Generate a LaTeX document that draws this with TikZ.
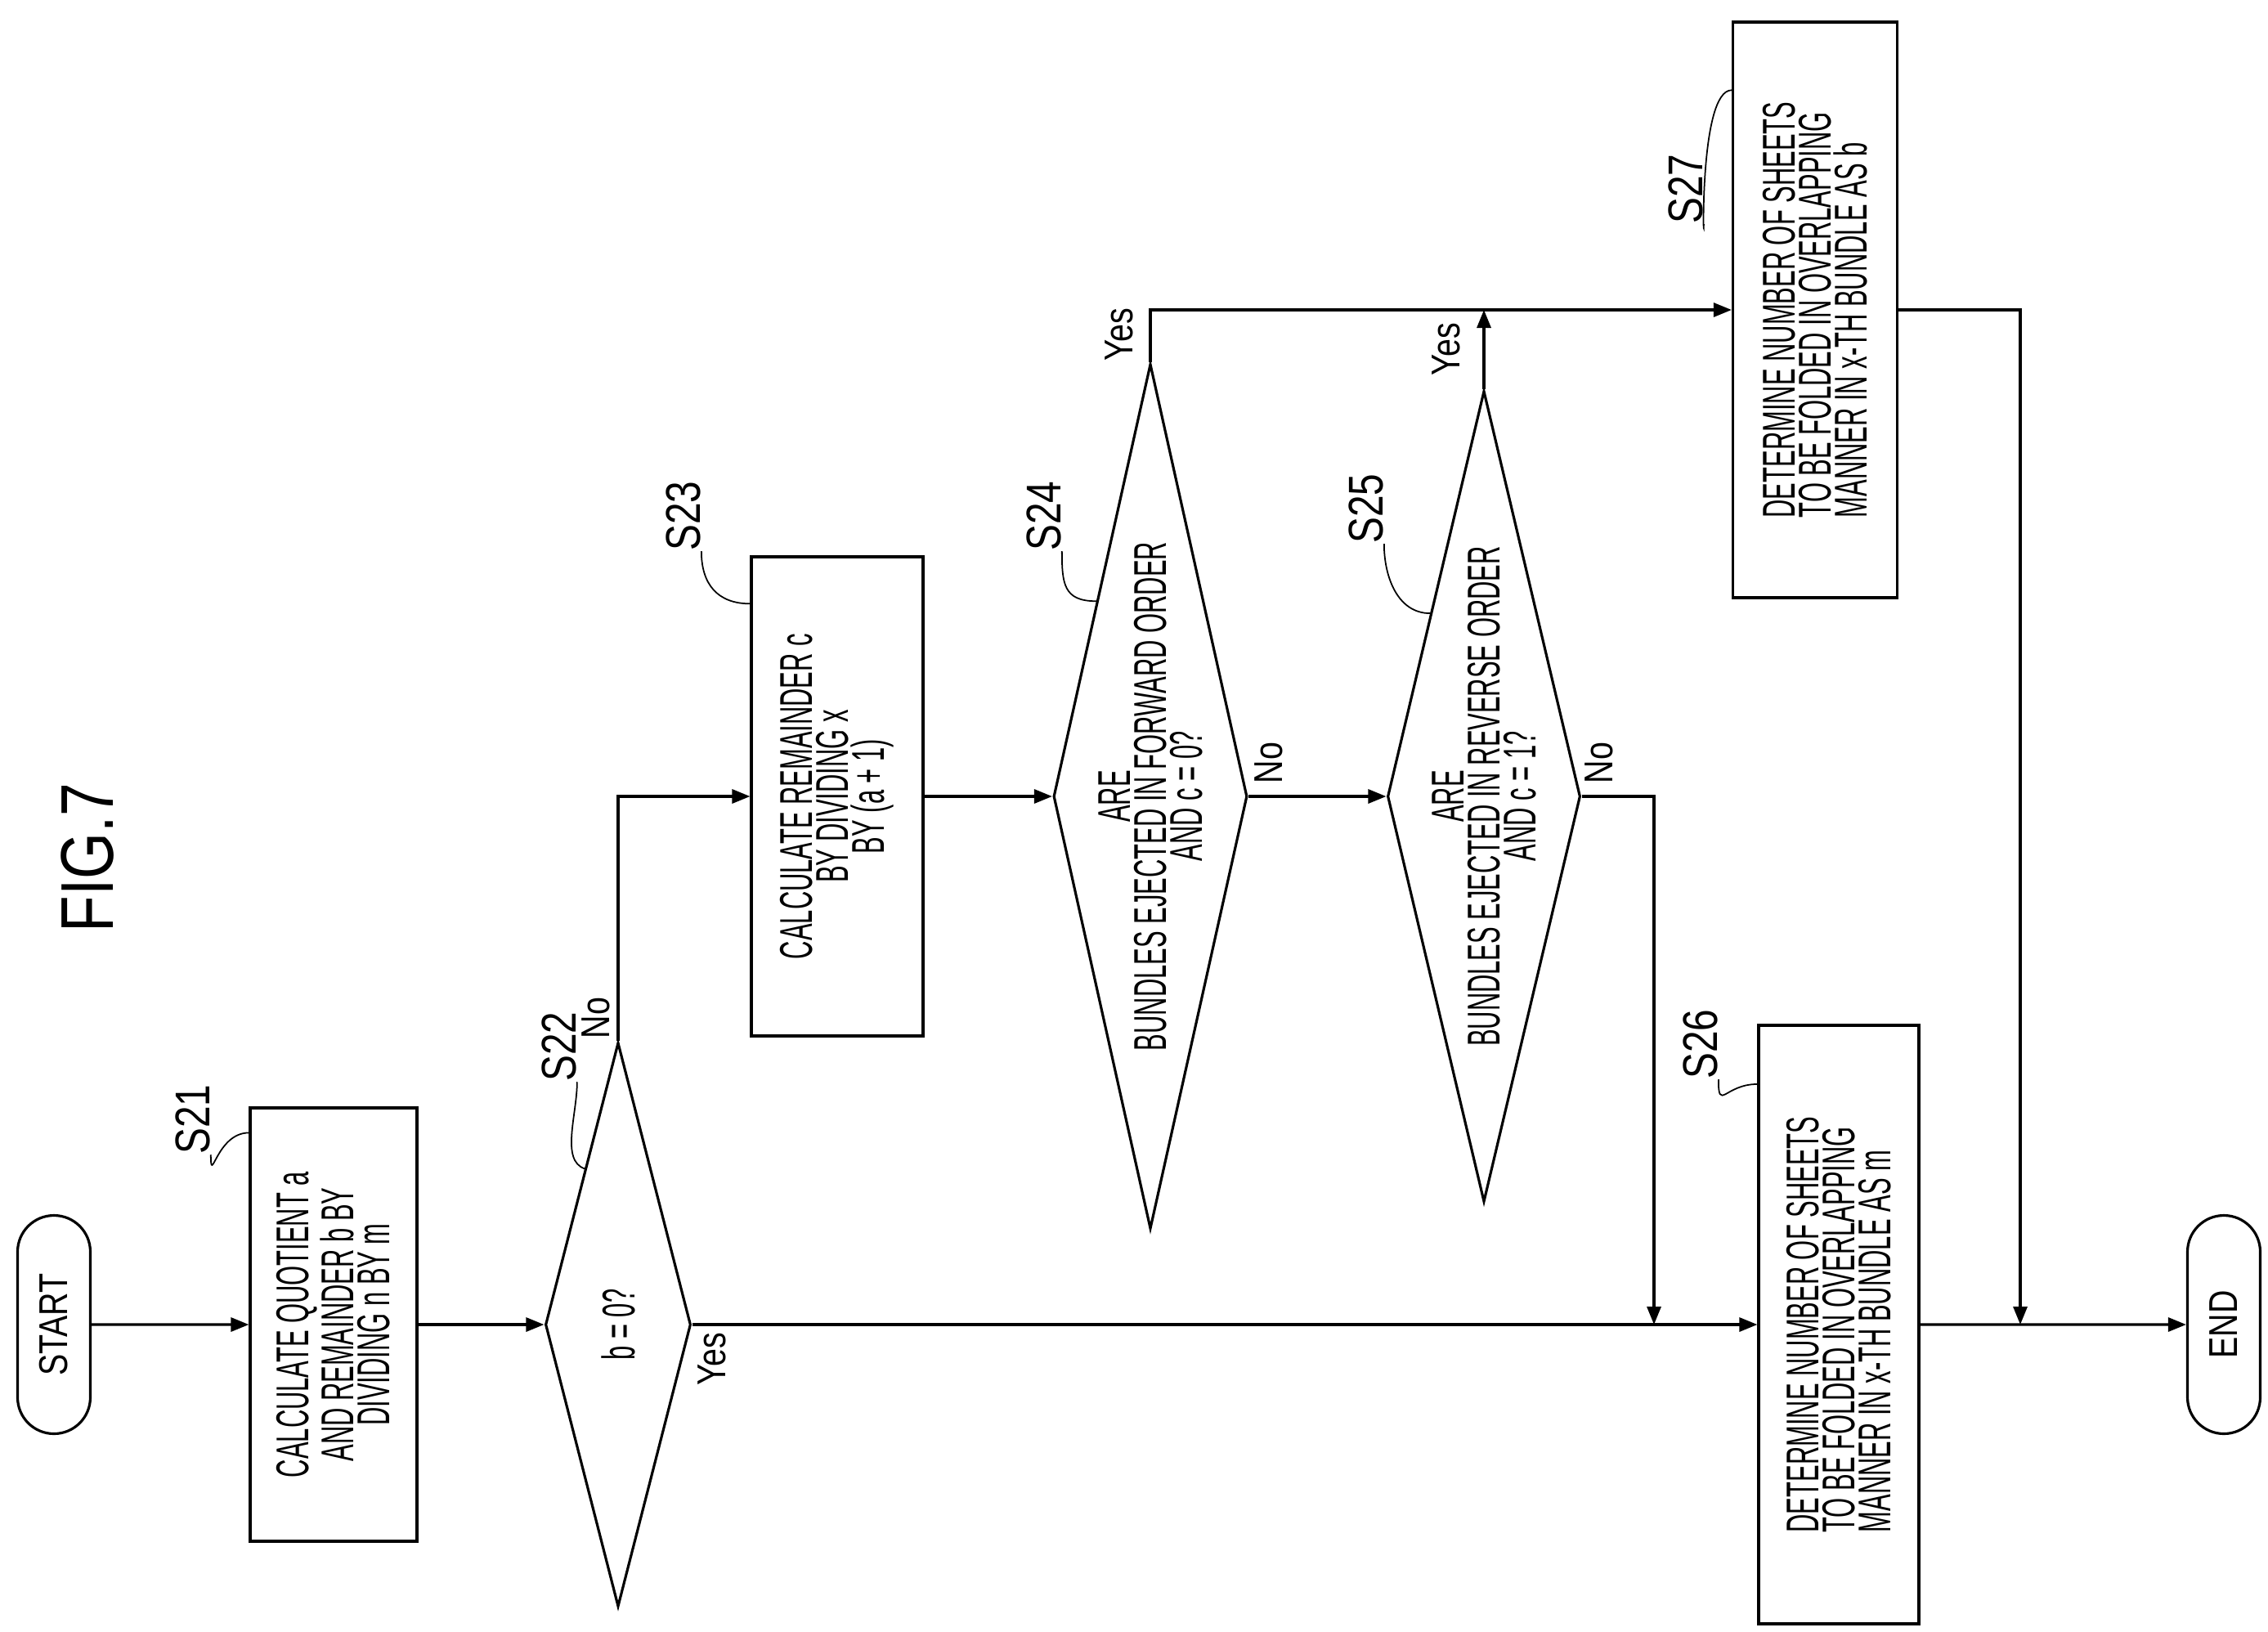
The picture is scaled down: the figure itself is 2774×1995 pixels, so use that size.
\documentclass[tikz,border=0pt]{standalone}
\usepackage{fontspec}
\setmainfont{Liberation Sans}
\newfontfamily\condfont[FakeStretch=0.55]{Liberation Sans}
\newfontfamily\labfont[FakeStretch=0.8]{Liberation Sans}
\usetikzlibrary{shapes.geometric,shapes.misc,arrows.meta,calc}
\tikzset{
  box/.style={draw,rotate=90,line width=0.9pt,inner sep=0pt,align=center,
    font=\condfont\fontsize{16}{12.5}\selectfont},
  term/.style={draw,rounded rectangle,rotate=90,line width=0.9pt,inner sep=0pt,
    minimum width=26.7mm,minimum height=8.9mm,font=\labfont\fontsize{14}{14}\selectfont},
  dia/.style={draw,diamond,rotate=90,line width=0.9pt,inner sep=0pt},
  txt/.style={rotate=90,inner sep=0pt,align=center,font=\condfont\fontsize{16}{12.5}\selectfont},
  yn/.style={rotate=90,inner sep=0pt,font=\labfont\fontsize{14}{14}\selectfont},
  steplab/.style={rotate=90,inner sep=0pt,font=\labfont\fontsize{17}{17}\selectfont},
  flow/.style={line width=0.9pt,-{Triangle[length=2.2mm,width=1.7mm]}},
  leader/.style={line width=0.5pt}
}
\begin{document}
\begin{tikzpicture}[x=0.1mm,y=-0.1mm]
	\path[use as bounding box] (0,0) rectangle (2774,1995);
	\node[rotate=90,inner sep=0pt,font=\labfont\fontsize{26}{26}\selectfont] (fig) at (107,1049) {FIG.7};
	% shapes
	\node[term] (start) at (66,1620) {START};
	\node[box,minimum width=53mm,minimum height=20.4mm] (s21) at (408,1620) {CALCULATE QUOTIENT a\\AND REMAINDER b BY\\DIVIDING n BY m};
	\node[dia,minimum width=69mm,minimum height=17.8mm] (s22) at (756,1620) {};
	\node[txt] (s22t) at (s22) {b = 0?};
	\node[box,minimum width=58.6mm,minimum height=21mm] (s23) at (1024,974) {CALCULATE REMAINDER c\\BY DIVIDING x\\BY (a + 1)};
	\node[dia,minimum width=105.8mm,minimum height=23.7mm] (s24) at (1407,974) {};
	\node[txt] (s24t) at (s24) {ARE\\BUNDLES EJECTED IN FORWARD ORDER\\AND c = 0?};
	\node[dia,minimum width=99.2mm,minimum height=23.6mm] (s25) at (1815,974) {};
	\node[txt] (s25t) at (s25) {ARE\\BUNDLES EJECTED IN REVERSE ORDER\\AND c = 1?};
	\node[box,align=left,minimum width=73.2mm,minimum height=19.6mm] (s26) at (2249,1620) {DETERMINE NUMBER OF SHEETS\\TO BE FOLDED IN OVERLAPPING\\MANNER IN x-TH BUNDLE AS m};
	\node[box,align=left,minimum width=70.4mm,minimum height=20.1mm] (s27) at (2220,379) {DETERMINE NUMBER OF SHEETS\\TO BE FOLDED IN OVERLAPPING\\MANNER IN x-TH BUNDLE AS b};
	\node[term] (end) at (2720,1620) {END};
	\coordinate (j1) at (2023,1620);
	\coordinate (j2) at (2471,1620);
	% connectors
	\draw[flow] (start) -- (s21);
	\draw[flow] (s21) -- (s22);
	\draw[flow] (s22) |- (s23);
	\draw[flow] (s23) -- (s24);
	\draw[flow] (s24) -- (s25);
	\draw[flow] (s24) |- (s27);
	\draw[flow] (s25) -- (s25 |- s27);
	\draw[flow] (s25) -| (j1);
	\draw[flow] (s22) -- (s26);
	\draw[flow] (s27) -| (j2);
	\draw[flow] (s26) -- (end);
	% yes / no
	\node[yn] (n22) at (729,1245) {No};
	\node[yn] (y22) at (871,1662) {Yes};
	\node[yn] (y24) at (1369,409) {Yes};
	\node[yn] (n24) at (1552,933) {No};
	\node[yn] (y25) at (1769,427) {Yes};
	\node[yn] (n25) at (1956,933) {No};
	% step labels
	\node[steplab] (l21) at (236,1369) {S21};
	\node[steplab] (l22) at (684,1280) {S22};
	\node[steplab] (l23) at (836,631) {S23};
	\node[steplab] (l24) at (1277,631) {S24};
	\node[steplab] (l25) at (1671,622) {S25};
	\node[steplab] (l26) at (2080,1277) {S26};
	\node[steplab] (l27) at (2062,231) {S27};
	\draw[leader] (l21.south west) .. controls +(0,40) and +(-40,0) .. ($(s21.north east)!0.06!(s21.north west)$);
	\draw[leader] (l22.south west) .. controls +(0,40) and +(-30,-10) .. ($(s22.north)!0.55!(s22.east)$);
	\draw[leader] (l23.south west) .. controls +(0,40) and +(-40,0) .. ($(s23.north east)!0.1!(s23.north west)$);
	\draw[leader] (l24.south west) .. controls +(0,40) and +(-40,0) .. ($(s24.north)!0.45!(s24.east)$);
	\draw[leader] (l25.south west) .. controls +(0,40) and +(-40,0) .. ($(s25.north)!0.45!(s25.east)$);
	\draw[leader] (l26.south west) .. controls +(0,40) and +(-40,0) .. ($(s26.north east)!0.1!(s26.north west)$);
	\draw[leader] (l27.south west) .. controls +(0,40) and +(-40,0) .. ($(s27.north east)!0.12!(s27.north west)$);
\end{tikzpicture}
\end{document}
